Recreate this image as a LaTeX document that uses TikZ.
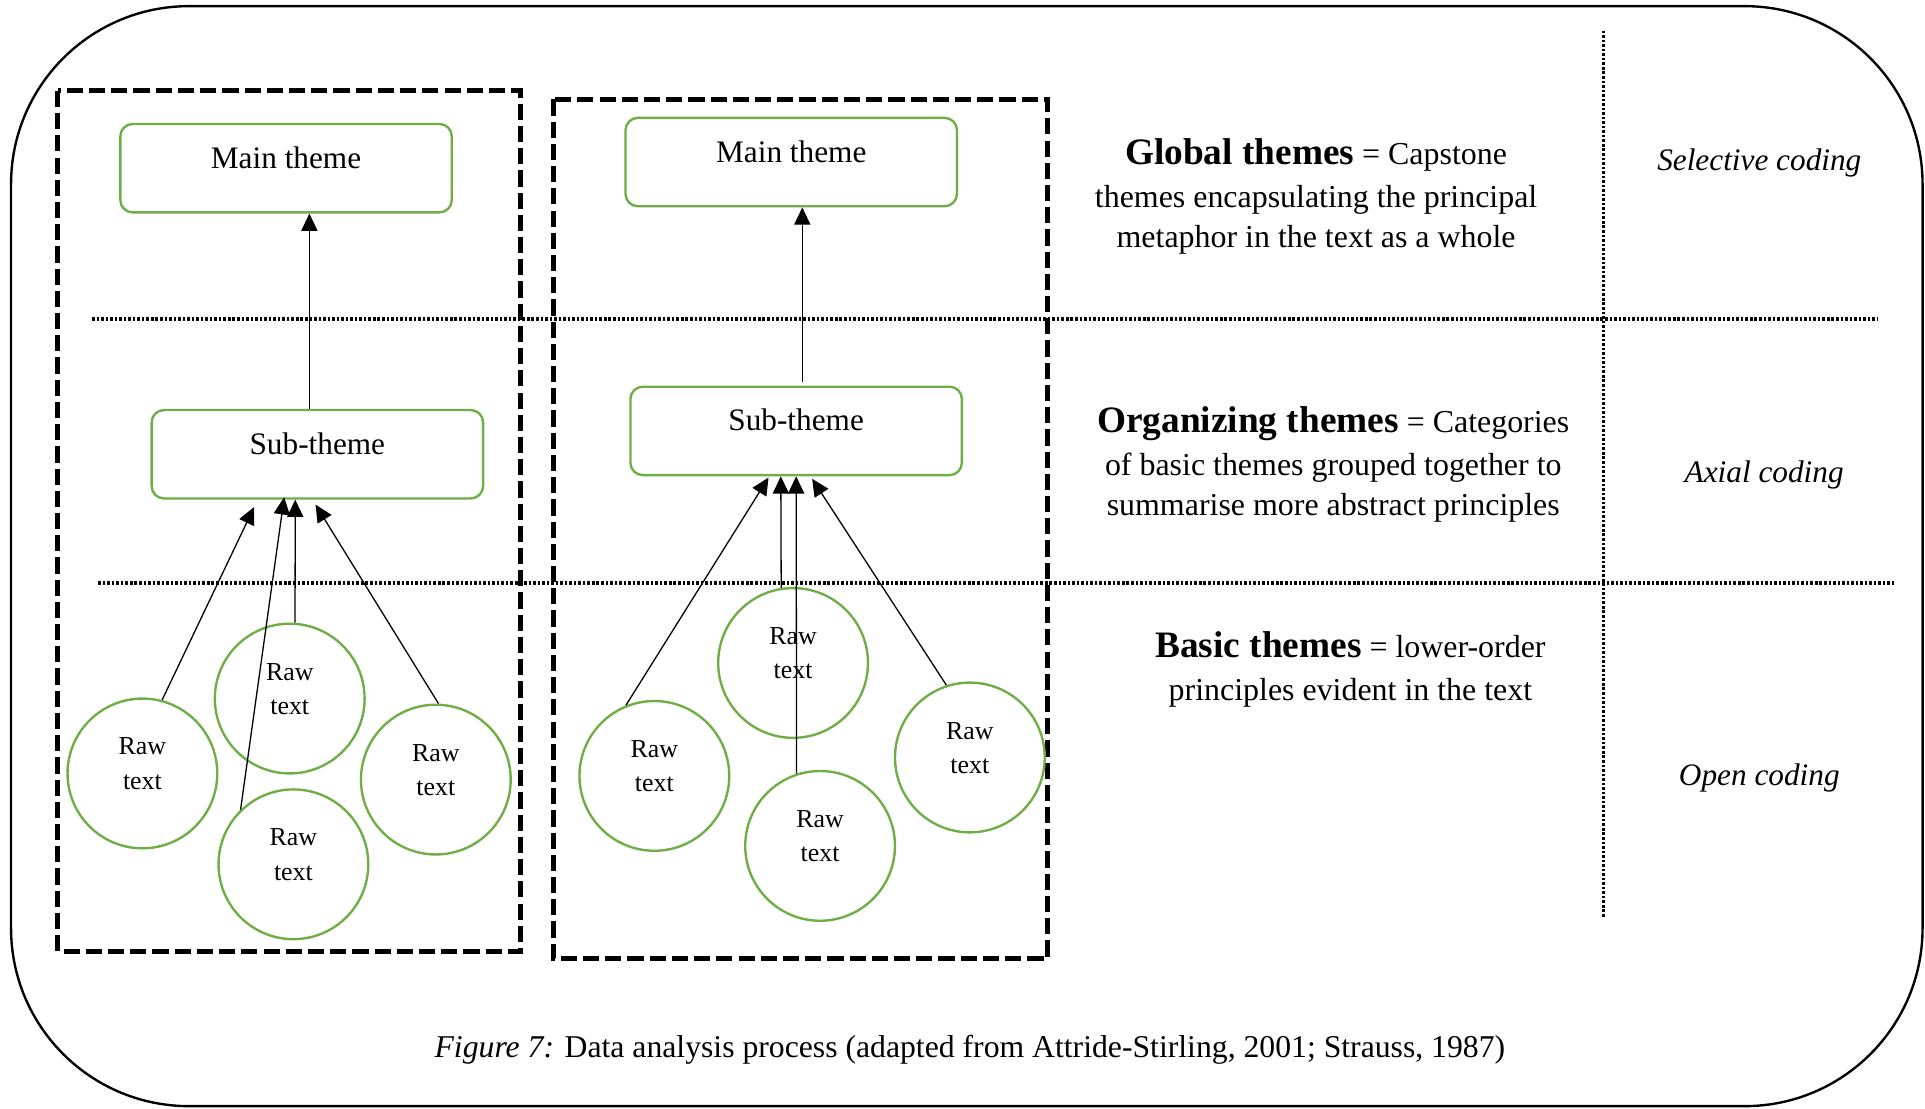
\documentclass[tikz,border=0pt]{standalone}
\usepackage{fontspec}
\setmainfont{Liberation Serif}
\usepackage{xcolor}
\usetikzlibrary{arrows.meta, positioning, calc}
\definecolor{themegreen}{HTML}{70AD47}

\begin{document}
\begin{tikzpicture}[
    x=0.02cm, y=-0.02cm,
    theme/.style={draw=themegreen, line width=1.1pt, rounded corners=0.2cm, minimum width=5.4cm, inner sep=0pt, text height=0.72cm, text depth=0.72cm, font=\fontsize{14.5}{18}\selectfont},
    raw/.style={draw=themegreen, line width=1.1pt, circle, minimum size=2.44cm, inner sep=0pt, align=center, text depth=9pt, font=\fontsize{12}{16}\selectfont},
    arr/.style={-{Triangle[length=8pt, width=7.5pt]}, line width=0.6pt},
    groupbox/.style={line width=2.3pt, dash pattern=on 7.5pt off 2.8pt},
    sep/.style={line width=1.6pt, dash pattern=on 1.2pt off 0.9pt},
    desc/.style={align=center, font=\fontsize{14.8}{18.5}\selectfont},
    coding/.style={font=\fontsize{14.5}{18}\selectfont\itshape},
]
\useasboundingbox (0,0) rectangle (1568,903);
\draw[line width=1.1pt, rounded corners=2.9cm] (9,5) rectangle (1566,901);

% Dashed groups
\draw[groupbox] (47,74) rectangle (424,775);
\draw[groupbox] (451,81) rectangle (853,781);

% Level separators
\draw[sep] (75,260) -- (1530,260);
\draw[sep] (80,475) -- (1543,475);
\draw[sep] (1306,25) -- (1306,748);

% Left side
\node[theme] (lmain) at (233,137) {Main theme};
\node[theme] (lsub) at (258.5,370) {Sub-theme};
\draw[arr] ([xshift=-0.13cm]lsub.north) -- ([xshift=-0.13cm]lsub.north |- lmain.south);
\foreach \n/\x/\y in {
    1/116/630,
    2/236/569,
    3/355/635,
    4/239/704
} {
    \node[raw] (l\n) at (\x,\y) {Raw\\text};
}
\coordinate (lt1) at (207,413);
\coordinate (lt2) at (240.5,407);
\coordinate (lt3) at (257,411);
\coordinate (lt4) at (231.5,405);
\draw[arr] (l1.75) -- (lt1);
\draw[arr] (l2.86) -- (lt2);
\draw[arr] (l3.88) -- (lt3);
\draw[arr] (l4.134) -- (lt4);

% Middle
\node[theme] (mmain) at (644.5,132) {Main theme};
\node[theme] (msub) at (648.5,351) {Sub-theme};
\draw[arr] ([xshift=0.1cm,yshift=0.06cm]msub.north) -- ([xshift=0.1cm]msub.north |- mmain.south);
\foreach \n/\x/\y in {
    1/533/632,
    2/646/540,
    3/790/617,
    4/668/689
} {
    \node[raw] (m\n) at (\x,\y) {Raw\\text};
}
\coordinate (mt1) at (626,389);
\coordinate (mt2) at (636,388);
\coordinate (mt3) at (661.5,390);
\coordinate (mt4) at (648.5,388);
\draw[arr] (m1.112) -- (mt1);
\draw[arr] (m2.99.4) -- (mt2);
\draw[arr] (m3.108) -- (mt3);
\draw[arr] (m4.108.6) -- (mt4);

% Right side - descriptions
\node[desc] (glob) at (1072,160) {{\fontsize{17.3}{20}\selectfont\bfseries Global themes} = Capstone\\[1.5pt]themes encapsulating the principal\\metaphor in the text as a whole};
\node[desc] (org) at (1086,378) {{\fontsize{17.3}{20}\selectfont\bfseries Organizing themes} = Categories\\[1.5pt]of basic themes grouped together to\\summarise more abstract principles};
\node[desc] (bas) at (1100,545) {{\fontsize{17.3}{20}\selectfont\bfseries Basic themes} = lower-order\\[1.5pt]principles evident in the text};

\node[coding] (sel) at (1433,133) {Selective coding};
\node[coding] (axi) at (1437,387) {Axial coding};
\node[coding] (ope) at (1433,634) {Open coding};

\node[font=\fontsize{14.7}{18}\selectfont] (cap) at (790,855) {\textit{Figure 7:} Data analysis process (adapted from Attride-Stirling, 2001; Strauss, 1987)};
\end{tikzpicture}
\end{document}
